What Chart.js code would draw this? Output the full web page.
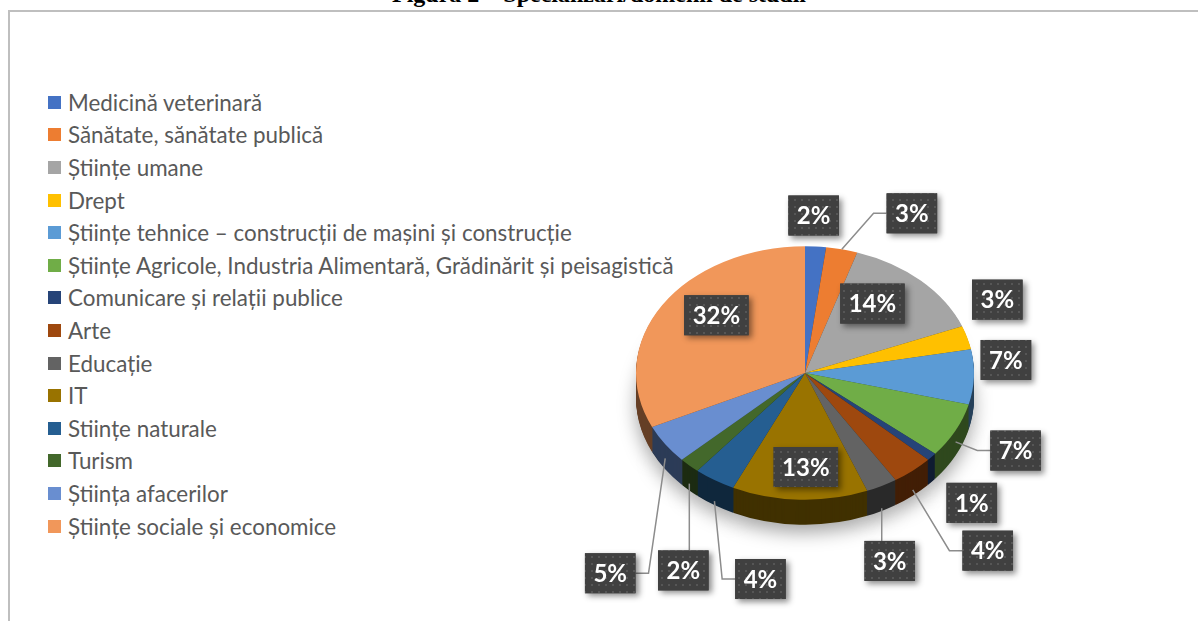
<!DOCTYPE html>
<html lang="ro">
<head>
<meta charset="utf-8">
<title>Specializări/domenii de studii</title>
<script src="https://cdn.jsdelivr.net/npm/chart.js@4.4.1/dist/chart.umd.min.js"></script>
<style>
  html, body { margin:0; padding:0; background:#fff; overflow:hidden; }
  body { width:1198px; height:621px; position:relative; }
  .title { position:absolute; left:0; width:1198px; top:-18px; text-align:center;
           font:bold 24px "Liberation Serif","Times New Roman",serif; line-height:24px; color:#000; }
  .frame { position:absolute; left:8px; top:10px; width:1300px; height:700px; border:2px solid #bfbfbf; }
  #legend { position:absolute; left:48px; top:86px; font:22.4px Lato, "Open Sans", sans-serif; color:#595959; }
  #legend .item { height:32.6px; display:flex; align-items:center; white-space:nowrap; }
  #legend .sw { width:13px; height:13px; margin-right:7px; flex:none; }
  #chart { position:absolute; left:0; top:0; }
</style>
</head>
<body>
<div class="title">Figura 2 – Specializări/domenii de studii</div>
<div class="frame"></div>
<div id="legend"></div>
<canvas id="chart" width="1198" height="621"></canvas>
<script>
'use strict';

const LABELS = [
  'Medicină veterinară',
  'Sănătate, sănătate publică',
  'Științe umane',
  'Drept',
  'Științe tehnice – construcții de mașini și construcție',
  'Științe Agricole, Industria Alimentară, Grădinărit și peisagistică',
  'Comunicare și relații publice',
  'Arte',
  'Educație',
  'IT',
  'Stiințe naturale',
  'Turism',
  'Știința afacerilor',
  'Științe sociale și economice'
];
const VALUES = [2, 3, 14, 3, 7, 7, 1, 4, 3, 13, 4, 2, 5, 32];
const COLORS = ['#4472C4','#ED7D31','#A5A5A5','#FFC000','#5B9BD5','#70AD47','#264478',
                '#9E480E','#636363','#997300','#255E91','#43682B','#698ED0','#F1975A'];

// label placement (style): radial factor of the anchor, offset of the box, leader line
const LBL_R   = [1, 1, 0.6, 1, 1, 1, 1, 1, 1, 0.6, 1, 1, 1, 0.6];
const LBL_DX  = [-2, 70, -2, 30, 32, 60, 40, 75, 8, 4, 46, -6, -55, -3];
const LBL_DY  = [-31, -36, -14, -38, -17, 20, 46, 80, 75, 18, 99, 105, 129, -17];
const LEADER  = [0, 1, 0, 0, 0, 1, 0, 1, 1, 0, 1, 1, 1, 0];

const TILT = 0.75;   // vertical squash of the pie
const DEPTH = 25;    // thickness of the pie side

// html legend
document.getElementById('legend').innerHTML = LABELS.map((l, i) =>
  `<div class="item"><span class="sw" style="background:${COLORS[i]}"></span><span>${l}</span></div>`).join('');

function squash(ctx, x, y) {
  ctx.translate(x, y); ctx.scale(1, TILT); ctx.translate(-x, -y);
}

let dotPattern = null;
function getPattern(ctx) {
  if (dotPattern) return dotPattern;
  const c = document.createElement('canvas'); c.width = 7; c.height = 7;
  const g = c.getContext('2d');
  g.fillStyle = '#404040'; g.fillRect(0, 0, 7, 7);
  g.fillStyle = '#565656'; g.fillRect(3, 3, 2, 2);
  dotPattern = ctx.createPattern(c, 'repeat');
  return dotPattern;
}

const pie3d = {
  id: 'pie3d',
  beforeDatasetsDraw(chart) {
    const ctx = chart.ctx;
    const arcs = chart.getDatasetMeta(0).data;
    const { x, y } = arcs[0];
    for (let d = DEPTH; d > 0; d--) {
      ctx.save();
      ctx.translate(0, d);
      squash(ctx, x, y);
      if (d === DEPTH) {
        ctx.shadowColor = 'rgba(0,0,0,0.35)'; ctx.shadowBlur = 18; ctx.shadowOffsetY = 8;
      }
      ctx.filter = 'brightness(42%)';
      arcs.forEach(a => a.draw(ctx));
      ctx.restore();
    }
    ctx.save();
    squash(ctx, x, y);
  },
  afterDatasetsDraw(chart) {
    const ctx = chart.ctx;
    ctx.restore();
    const arcs = chart.getDatasetMeta(0).data;
    ctx.save();
    ctx.font = 'bold 24px Lato, "Open Sans", sans-serif';
    ctx.textAlign = 'center'; ctx.textBaseline = 'middle';
    arcs.forEach((a, i) => {
      const mid = (a.startAngle + a.endAngle) / 2;
      const r = a.outerRadius * LBL_R[i];
      const ax = a.x + r * Math.cos(mid);
      const ay = a.y + TILT * r * Math.sin(mid);
      const bx = ax + LBL_DX[i], by = ay + LBL_DY[i];
      const txt = VALUES[i] + '%';
      const w = ctx.measureText(txt).width + 17, h = 40;
      if (LEADER[i]) {
        const sy = ay + (Math.sin(mid) > 0 ? DEPTH * Math.sin(mid) : 0);
        ctx.strokeStyle = '#8c8c8c'; ctx.lineWidth = 1.5;
        ctx.beginPath(); ctx.moveTo(ax, sy);
        if (Math.abs(bx - ax) < w / 2) {
          ctx.lineTo(ax, by - h / 2);
        } else {
          const ex = bx > ax ? bx - w / 2 : bx + w / 2;
          ctx.lineTo(ex + (bx > ax ? -13 : 13), by);
          ctx.lineTo(ex, by);
        }
        ctx.stroke();
      }
      ctx.save();
      ctx.shadowColor = 'rgba(0,0,0,0.45)'; ctx.shadowBlur = 6; ctx.shadowOffsetX = 3; ctx.shadowOffsetY = 3;
      ctx.fillStyle = '#404040';
      ctx.fillRect(bx - w / 2, by - h / 2, w, h);
      ctx.restore();
      ctx.fillStyle = getPattern(ctx);
      ctx.fillRect(bx - w / 2, by - h / 2, w, h);
      ctx.fillStyle = '#ffffff';
      ctx.fillText(txt, bx, by + 1);
    });
    ctx.restore();
  }
};

new Chart(document.getElementById('chart'), {
  type: 'pie',
  data: {
    labels: LABELS,
    datasets: [{ data: VALUES, backgroundColor: COLORS, borderWidth: 0, radius: 169 }]
  },
  options: {
    responsive: false,
    animation: false,
    events: [],
    layout: { padding: { left: 555, right: 143, top: 133, bottom: 8 } },
    plugins: { legend: { display: false }, tooltip: { enabled: false } }
  },
  plugins: [pie3d]
});
</script>
</body>
</html>
